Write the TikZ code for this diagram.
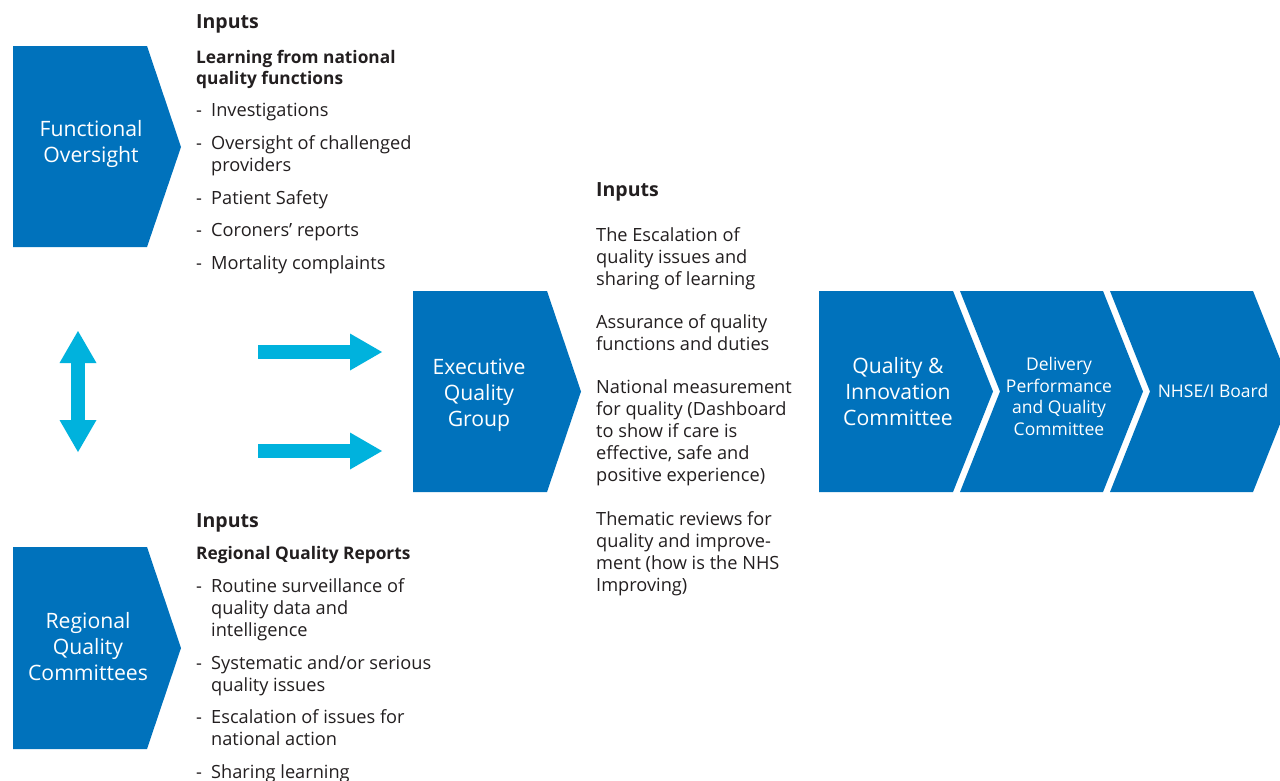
\documentclass[tikz,border=0pt]{standalone}
\usepackage{fontspec}
\setmainfont{Open Sans}
\usetikzlibrary{arrows.meta}
\definecolor{nhsblue}{RGB}{0,114,188}
\definecolor{arrowcyan}{RGB}{0,178,221}
\definecolor{bodytext}{RGB}{35,31,32}
\newcommand{\dashitem}{\makebox[15pt][l]{-}}
\newcommand{\indentline}{\hspace*{15pt}}
\tikzset{
  chevron/.style={fill=nhsblue},
  boxlabel/.style={text=white, align=center, inner sep=0pt, font=\fontsize{21.2}{26}\selectfont},
  smalllabel/.style={text=white, align=center, inner sep=0pt, font=\fontsize{17.5}{21.5}\selectfont},
  inputs/.style={anchor=base west, inner sep=0pt, text=bodytext, font=\fontsize{19.5}{22}\selectfont\bfseries},
  subhead/.style={anchor=base west, inner sep=0pt, text=bodytext, font=\fontsize{17.3}{22}\selectfont\bfseries},
  listline/.style={anchor=base west, inner sep=0pt, text=bodytext, font=\fontsize{18.2}{22}\selectfont},
  blockarrow/.style={draw=arrowcyan, line width=14pt},
  bigtip/.tip={Triangle[length=32pt, width=37pt, line width=0pt, fill=arrowcyan]}
}
\begin{document}
\begin{tikzpicture}[x=1pt, y=-1pt]
\clip (0,0) rectangle (1280,780);
\fill[white] (0,0) rectangle (1280,780);
% left chevrons
\fill[chevron] (13,46) -- (147,46) -- (181,147) -- (147,247) -- (13,247) -- cycle;
\node[boxlabel] (fo) at (91,144) {Functional\\Oversight};
\fill[chevron] (13,547) -- (147,547) -- (181,648) -- (147,749) -- (13,749) -- cycle;
\node[boxlabel] (rqc) at (88,647) {Regional\\Quality\\Committees};
% executive group
\fill[chevron] (413,291) -- (547,291) -- (581,391.5) -- (547,492) -- (413,492) -- cycle;
\node[boxlabel] (eqg) at (479,395) {Executive\\Quality\\Group};
% committees chain
\fill[chevron] (819,291) -- (953,291) -- (993,391.5) -- (953,492) -- (819,492) -- cycle;
\node[boxlabel] (qic) at (898,392) {Quality \&\\Innovation\\Committee};
\fill[chevron] (960,291) -- (1103,291) -- (1143,391.5) -- (1103,492) -- (960,492) -- (1000,391.5) -- cycle;
\node[smalllabel] (dpq) at (1059,396.5) {Delivery\\Performance\\and Quality\\Committee};
\fill[chevron] (1110,291) -- (1253,291) -- (1293,391.5) -- (1253,492) -- (1110,492) -- (1150,391.5) -- cycle;
\node[smalllabel] (board) at (1213,391) {NHSE/I Board};
% arrows
\coordinate (vtop) at (78,331);
\coordinate (vbot) at (78,452);
\draw[blockarrow, bigtip-bigtip] (vtop) -- (vbot);
\coordinate (upS) at (258,352);
\coordinate (upE) at (382,352);
\draw[blockarrow, -bigtip] (upS) -- (upE);
\coordinate (loS) at (258,451);
\coordinate (loE) at (382,451);
\draw[blockarrow, -bigtip] (loS) -- (loE);
% top inputs
\node[inputs] (in1) at (196,28) {Inputs};
\node[subhead] (lf1) at (196,63) {Learning from national};
\node[subhead] (lf2) at (196,84) {quality functions};
\node[listline] (lf3) at (196,116) {\dashitem Investigations};
\node[listline] (lf4) at (196,149) {\dashitem Oversight of challenged};
\node[listline] (lf5) at (196,171) {\indentline providers};
\node[listline] (lf6) at (196,204) {\dashitem Patient Safety};
\node[listline] (lf7) at (196,236) {\dashitem Coroners’ reports};
\node[listline] (lf8) at (196,269) {\dashitem Mortality complaints};
% middle inputs
\node[inputs] (in2) at (596,196) {Inputs};
\node[listline] (md1) at (596,241) {The Escalation of};
\node[listline] (md2) at (596,263) {quality issues and};
\node[listline] (md3) at (596,285) {sharing of learning};
\node[listline] (md4) at (596,328) {Assurance of quality};
\node[listline] (md5) at (596,350) {functions and duties};
\node[listline] (md6) at (596,393) {National measurement};
\node[listline] (md7) at (596,415) {for quality (Dashboard};
\node[listline] (md8) at (596,437) {to show if care is};
\node[listline] (md9) at (596,459) {effective, safe and};
\node[listline] (md10) at (596,481) {positive experience)};
\node[listline] (md11) at (596,525) {Thematic reviews for};
\node[listline] (md12) at (596,547) {quality and improve-};
\node[listline] (md13) at (596,569) {ment (how is the NHS};
\node[listline] (md14) at (596,591) {Improving)};
% bottom inputs
\node[inputs] (in3) at (196,527) {Inputs};
\node[subhead] (rq1) at (196,559) {Regional Quality Reports};
\node[listline] (rq2) at (196,592) {\dashitem Routine surveillance of};
\node[listline] (rq3) at (196,614) {\indentline quality data and};
\node[listline] (rq4) at (196,636) {\indentline intelligence};
\node[listline] (rq5) at (196,669) {\dashitem Systematic and/or serious};
\node[listline] (rq6) at (196,691) {\indentline quality issues};
\node[listline] (rq7) at (196,723) {\dashitem Escalation of issues for};
\node[listline] (rq8) at (196,745) {\indentline national action};
\node[listline] (rq9) at (196,778) {\dashitem Sharing learning};
\end{tikzpicture}
\end{document}
